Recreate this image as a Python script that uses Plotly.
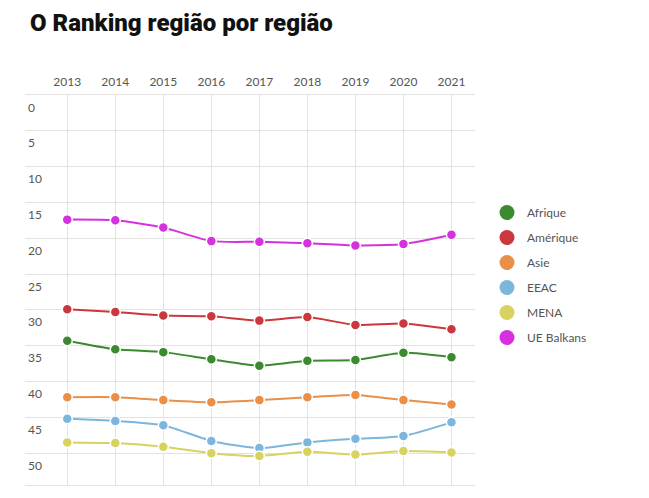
import plotly.graph_objects as go

years = [2013, 2014, 2015, 2016, 2017, 2018, 2019, 2020, 2021]
afrique = [34.3, 35.5, 35.9, 36.9, 37.8, 37.1, 37.0, 36.0, 36.6]
amerique = [29.9, 30.3, 30.8, 30.9, 31.5, 31.0, 32.1, 31.9, 32.7]
asie = [42.2, 42.2, 42.6, 42.9, 42.6, 42.2, 41.9, 42.6, 43.2]
eeac = [45.2, 45.5, 46.1, 48.3, 49.3, 48.5, 48.0, 47.6, 45.7]
mena = [48.5, 48.6, 49.1, 50.0, 50.4, 49.8, 50.2, 49.7, 49.9]
ue_balkans = [17.4, 17.5, 18.5, 20.4, 20.5, 20.7, 21.0, 20.8, 19.5]

series_names = ["Afrique", "Amérique", "Asie", "EEAC", "MENA", "UE Balkans"]
series_values = [afrique, amerique, asie, eeac, mena, ue_balkans]
colors = ["#3b8a2f", "#cc373d", "#ea8f48", "#7db6dc", "#d8d260", "#d531df"]

y_tickvals = [0, 5, 10, 15, 20, 25, 30, 35, 40, 45, 50]
y_ticklabels = [str(v) for v in y_tickvals]
x_ticklabels = [str(y) for y in years]

W, H = 641, 490

fig = go.Figure()
for name, vals, col in zip(series_names, series_values, colors):
    fig.add_trace(go.Scatter(
        x=years, y=vals, mode="lines+markers", name=name, showlegend=False,
        line=dict(color=col, width=2, shape="spline", smoothing=0.6),
        marker=dict(color=col, size=10, line=dict(color="white", width=1.5)),
        hoverinfo="x+y+name",
    ))
for name, col in zip(series_names, colors):
    fig.add_trace(go.Scatter(
        x=[None], y=[None], mode="markers", name=name, legendgroup=name,
        marker=dict(color=col, size=15),
    ))

fig.update_layout(
    width=W, height=H,
    paper_bgcolor="white", plot_bgcolor="white",
    margin=dict(l=17, r=166, t=87, b=12),
    font=dict(family="Lato, Roboto, sans-serif", size=12, color="#555"),
    title=dict(text="O Ranking região por região", x=22 / W, xanchor="left",
               y=1 - 15 / H, yanchor="middle",
               font=dict(family="Roboto, sans-serif", weight=900,
                         size=24, color="#111")),
    showlegend=True,
    legend=dict(xref="container", yref="container", x=479 / W, y=1 - 190 / H,
                xanchor="left", yanchor="top", tracegroupgap=6,
                font=dict(size=12, color="#555"), itemwidth=30,
                bgcolor="rgba(0,0,0,0)"),
    xaxis=dict(side="top", range=[2012.12, 2021.49], tickvals=years, ticktext=x_ticklabels,
               showgrid=True, gridcolor="#e2e2e2", gridwidth=1, zeroline=False,
               showline=True, mirror=True, linecolor="#e2e2e2", linewidth=1,
               ticks="outside", ticklen=3, tickcolor="rgba(0,0,0,0)",
               tickfont=dict(size=12, color="#555")),
    yaxis=dict(range=[54.45, 0], tickvals=y_tickvals, ticktext=y_ticklabels,
               ticklabelposition="inside bottom", ticklabelshift=-4, showgrid=True,
               gridcolor="#e2e2e2", gridwidth=1, zeroline=False, showline=False,
               tickfont=dict(size=12, color="#555")),
)

fig.write_html("out.html")
